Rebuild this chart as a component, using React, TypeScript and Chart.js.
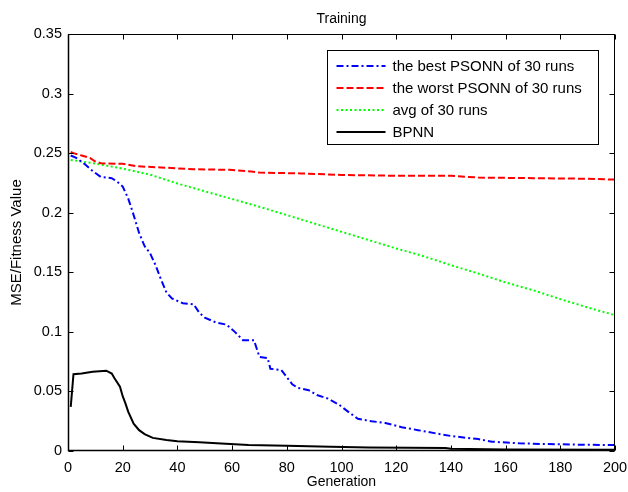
import React, { useEffect, useRef } from "react";
import { Chart, registerables } from "chart.js";

Chart.register(...registerables);

const titleText = "Training";
const xAxisLabel = "Generation";
const yAxisLabel = "MSE/Fitness Value";
const xTickValues = [0, 20, 40, 60, 80, 100, 120, 140, 160, 180, 200];
const yTickValues = [0, 0.05, 0.1, 0.15, 0.2, 0.25, 0.3, 0.35];

const seriesLabels = [
  "the best PSONN of 30 runs",
  "the worst PSONN of 30 runs",
  "avg of 30 runs",
  "BPNN",
];

const bestGen = [1, 3, 6, 9, 12, 16, 18, 20, 22, 24, 26, 28, 30, 32, 34, 36, 38, 42, 46, 48, 50, 54, 58, 61, 64, 68, 70, 73, 74, 78, 80, 82, 84, 88, 91, 95, 99, 103, 106, 111, 116, 122, 128, 134, 140, 146, 150, 155, 165, 175, 190, 200];
const bestMse = [0.248, 0.246, 0.241, 0.235, 0.23, 0.229, 0.226, 0.222, 0.212, 0.198, 0.183, 0.172, 0.166, 0.156, 0.144, 0.133, 0.128, 0.124, 0.123, 0.116, 0.112, 0.108, 0.106, 0.1, 0.093, 0.093, 0.079, 0.078, 0.069, 0.068, 0.062, 0.056, 0.053, 0.051, 0.047, 0.044, 0.039, 0.032, 0.027, 0.025, 0.0235, 0.02, 0.0175, 0.015, 0.0126, 0.011, 0.01, 0.0078, 0.0065, 0.0058, 0.0052, 0.005];

const worstGen = [1, 2, 5, 8, 10, 12, 20, 25, 34, 46, 59, 67, 70, 85, 100, 120, 140, 150, 170, 190, 200];
const worstMse = [0.251, 0.25, 0.248, 0.246, 0.243, 0.2415, 0.241, 0.239, 0.238, 0.2365, 0.236, 0.2345, 0.2337, 0.233, 0.2317, 0.231, 0.231, 0.2295, 0.229, 0.2285, 0.2278];

const avgGen = [1, 10, 20, 30, 40, 50, 60, 70, 80, 90, 100, 110, 120, 130, 140, 150, 160, 170, 180, 190, 200];
const avgMse = [0.2443, 0.2413, 0.237, 0.232, 0.2245, 0.218, 0.2115, 0.205, 0.198, 0.191, 0.184, 0.177, 0.17, 0.1635, 0.156, 0.149, 0.1415, 0.135, 0.1275, 0.1205, 0.114];

const bpGen = [1, 2, 5, 9, 14, 16, 17, 19, 20, 21, 22, 24, 26, 28, 31, 36, 40, 48, 56, 66, 80, 96, 110, 125, 138, 140, 160, 200];
const bpMse = [0.037, 0.0645, 0.065, 0.0666, 0.0674, 0.065, 0.061, 0.054, 0.046, 0.04, 0.033, 0.023, 0.0175, 0.0142, 0.011, 0.0092, 0.0082, 0.0073, 0.0062, 0.005, 0.0045, 0.0036, 0.003, 0.0028, 0.0026, 0.0018, 0.0012, 0.001];

const FONT = "'Liberation Sans', Arial, Helvetica, sans-serif";

const toPoints = (xs: number[], ys: number[]) => xs.map((x, i) => ({ x, y: ys[i] }));

const framePlugin = {
  id: "matlabFrame",
  afterDraw(chart: any) {
    const { ctx, chartArea: a, scales } = chart;
    const xs = scales.x;
    const ys = scales.y;
    const L = Math.round(a.left) + 0.5;
    const R = Math.round(a.right) - 0.5;
    const T = Math.round(a.top) + 0.5;
    const B = Math.round(a.bottom) - 0.5;
    const tl = 5;
    ctx.save();
    ctx.strokeStyle = "#000";
    ctx.lineWidth = 1;
    ctx.beginPath();
    xs.ticks.forEach((t: any) => {
      const px = Math.round(xs.getPixelForValue(t.value)) + 0.5;
      ctx.moveTo(px, B);
      ctx.lineTo(px, B - tl);
      ctx.moveTo(px, T);
      ctx.lineTo(px, T + tl);
    });
    ys.ticks.forEach((t: any) => {
      const py = Math.round(ys.getPixelForValue(t.value)) + 0.5;
      ctx.moveTo(L, py);
      ctx.lineTo(L + tl, py);
      ctx.moveTo(R, py);
      ctx.lineTo(R - tl, py);
    });
    ctx.stroke();
    ctx.strokeRect(L, T, R - L, B - T);
    ctx.beginPath();
    ctx.lineWidth = 1.5;
    ctx.moveTo(L, T);
    ctx.lineTo(L, B);
    ctx.lineTo(R, B);
    ctx.stroke();

    // title, centred over the plot area
    ctx.fillStyle = "#000";
    ctx.font = `14px ${FONT}`;
    ctx.textAlign = "center";
    ctx.textBaseline = "middle";
    ctx.fillText(titleText, (a.left + a.right) / 2, a.top - 15);

    // legend
    const boxW = 271;
    const boxH = 94;
    const bx = Math.round(a.right - 17 - boxW) + 0.5;
    const by = Math.round(a.top + 16) + 0.5;
    ctx.fillStyle = "#fff";
    ctx.fillRect(bx, by, boxW, boxH);
    ctx.lineWidth = 1;
    ctx.strokeStyle = "#000";
    ctx.strokeRect(bx, by, boxW, boxH);
    ctx.font = `15px ${FONT}`;
    ctx.textBaseline = "middle";
    ctx.textAlign = "left";
    chart.data.datasets.forEach((ds: any, i: number) => {
      const y = Math.round(by + 15 + i * 22.3);
      ctx.save();
      ctx.strokeStyle = ds.borderColor;
      ctx.lineWidth = ds.borderWidth;
      ctx.setLineDash(ds.borderDash || []);
      ctx.beginPath();
      ctx.moveTo(bx + 9, y);
      ctx.lineTo(bx + 58, y);
      ctx.stroke();
      ctx.restore();
      ctx.fillStyle = "#000";
      ctx.fillText(ds.label, bx + 65, y + 1);
    });
    ctx.restore();
  },
};

export default function App() {
  const ref = useRef<HTMLCanvasElement | null>(null);
  useEffect(() => {
    if (!ref.current) return;
    const chart = new Chart(ref.current, {
      type: "line",
      data: {
        datasets: [
          {
            label: seriesLabels[0],
            data: toPoints(bestGen, bestMse),
            borderColor: "#0000ff",
            borderWidth: 2,
            borderDash: [7, 3, 2, 3],
            pointRadius: 0,
            tension: 0,
            fill: false,
          },
          {
            label: seriesLabels[1],
            data: toPoints(worstGen, worstMse),
            borderColor: "#ff0000",
            borderWidth: 2,
            borderDash: [7, 3],
            pointRadius: 0,
            tension: 0,
            fill: false,
          },
          {
            label: seriesLabels[2],
            data: toPoints(avgGen, avgMse),
            borderColor: "#00ff00",
            borderWidth: 2,
            borderDash: [2, 2.5],
            pointRadius: 0,
            tension: 0,
            fill: false,
          },
          {
            label: seriesLabels[3],
            data: toPoints(bpGen, bpMse),
            borderColor: "#000000",
            borderWidth: 2,
            borderDash: [],
            pointRadius: 0,
            tension: 0,
            fill: false,
          },
        ],
      },
      options: {
        animation: false,
        responsive: true,
        maintainAspectRatio: false,
        layout: { padding: { left: 0, right: 13, top: 34, bottom: 0 } },
        plugins: {
          legend: { display: false },
          tooltip: { enabled: false },
          title: { display: false },
        },
        scales: {
          x: {
            type: "linear",
            min: 0,
            max: 200,
            afterBuildTicks: (s: any) => {
              s.ticks = xTickValues.map((v) => ({ value: v }));
            },
            afterFit: (s: any) => {
              s.height = 41;
              s.paddingLeft = 0;
              s.paddingRight = 0;
            },
            grid: { display: false, drawTicks: false },
            border: { display: false },
            ticks: {
              color: "#000",
              font: { family: FONT, size: 14.5 },
              padding: 8,
              maxRotation: 0,
              autoSkip: false,
              callback: (v: any) => String(v),
            },
            title: {
              display: true,
              text: xAxisLabel,
              color: "#000",
              font: { family: FONT, size: 14 },
              padding: { top: 0, bottom: 1 },
            },
          },
          y: {
            type: "linear",
            min: 0,
            max: 0.35,
            afterBuildTicks: (s: any) => {
              s.ticks = yTickValues.map((v) => ({ value: v }));
            },
            afterFit: (s: any) => {
              s.width = 68;
              s.paddingTop = 0;
              s.paddingBottom = 0;
            },
            grid: { display: false, drawTicks: false },
            border: { display: false },
            ticks: {
              color: "#000",
              font: { family: FONT, size: 14.5 },
              padding: 6,
              autoSkip: false,
              callback: (v: any) => String(parseFloat(Number(v).toFixed(2))),
            },
            title: {
              display: true,
              text: yAxisLabel,
              color: "#000",
              font: { family: FONT, size: 15 },
              padding: { top: 8, bottom: 0 },
            },
          },
        },
      },
      plugins: [framePlugin],
    });
    return () => chart.destroy();
  }, []);

  return (
    <div style={{ position: "fixed", left: 0, top: 0, width: 628, height: 492, background: "#fff" }}>
      <canvas ref={ref} />
    </div>
  );
}
